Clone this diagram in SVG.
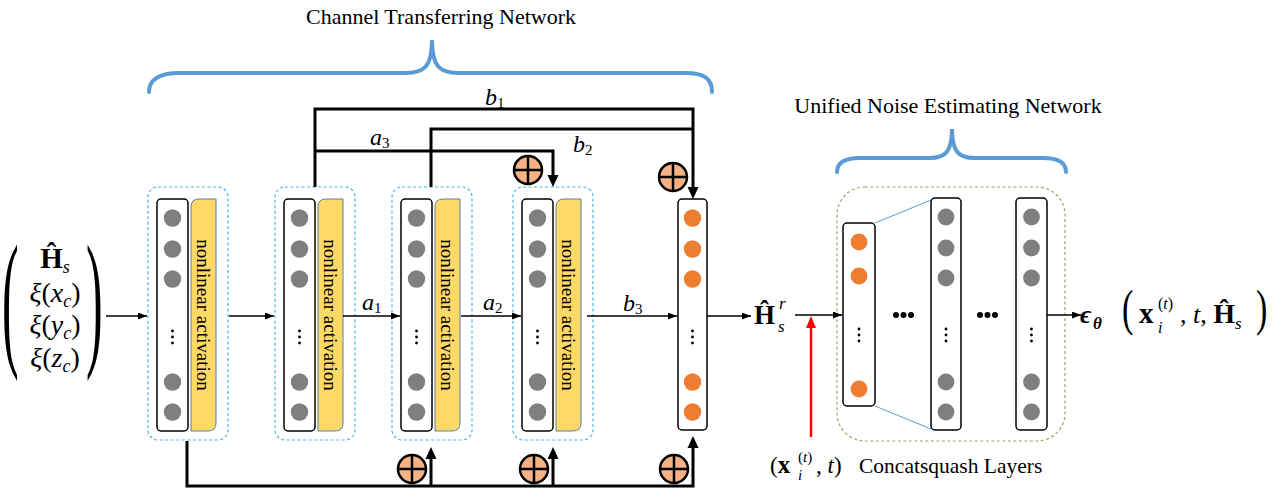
<svg xmlns="http://www.w3.org/2000/svg" width="1276" height="494" viewBox="0 0 1276 494">
<style>
.dash{fill:none;stroke:#45B5E8;stroke-width:1.2;stroke-dasharray:3 2.5}
.gdash{fill:none;stroke:#8DAE6A;stroke-width:1.2;stroke-dasharray:3 2.5}
.col{fill:#fff;stroke:#000;stroke-width:1.5}
.yel{fill:#FFD966;stroke:#5A7EA8;stroke-width:1}
.g{fill:#7F7F7F}
.o{fill:#ED7D31}
.d{fill:#000}
.thin{stroke:#000;stroke-width:1.5;fill:none}
.thick{stroke:#000;stroke-width:3;fill:none}
.brace{fill:none;stroke:#5B9BD5;stroke-width:4;stroke-linecap:round}
.bl{stroke:#5B9BD5;stroke-width:1;fill:none}
.pc{fill:#F4B183;stroke:#000;stroke-width:2.5}
.px{stroke:#000;stroke-width:2.5}
text{font-family:"Liberation Serif","DejaVu Serif",serif;fill:#000}
.na{font-size:19px}
.lab{font-size:24px;font-style:italic}
.sub{font-size:15px;font-style:normal}
.ttl{font-size:22px}
</style>
<defs>
<marker id="ah" markerUnits="userSpaceOnUse" markerWidth="10" markerHeight="8" refX="9" refY="3.5" orient="auto"><path d="M0,0 L9,3.5 L0,7 Z" fill="#000"/></marker>
<g id="pl"><circle class="pc" r="14"/><line class="px" x1="-14" y1="0" x2="14" y2="0"/><line class="px" x1="0" y1="-14" x2="0" y2="14"/></g>
</defs>

<!-- titles and braces -->
<g id="title-ctn">
<text class="ttl" x="441" y="24" text-anchor="middle">Channel Transferring Network</text>
<path class="brace" d="M149,92 C149,79 160,73 180,73 L405,73 C425,73 432,66 432,40 C432,66 439,73 459,73 L685,73 C705,73 712,79 712,92"/>
</g>
<g id="title-une">
<text class="ttl" x="948" y="113" text-anchor="middle">Unified Noise Estimating Network</text>
<path class="brace" d="M837,172 C837,163 845,158 860,158 L930,158 C945,158 952,152 952,129 C952,152 959,158 974,158 L1043,158 C1058,158 1066,163 1066,172"/>
</g>

<!-- input vector -->
<g id="input">
<text transform="translate(2,349) scale(1,3.0)" font-size="50">(</text>
<text transform="translate(86,349) scale(1,3.0)" font-size="50">)</text>
<text x="55" y="268" text-anchor="middle" font-size="29"><tspan font-weight="bold">Ĥ</tspan><tspan font-style="italic" font-size="18" dy="5">s</tspan></text>
<text x="55" y="302" text-anchor="middle" font-size="28"><tspan font-style="italic">ξ</tspan>(<tspan font-style="italic">x</tspan><tspan font-style="italic" font-size="18" dy="5">c</tspan><tspan dy="-5">)</tspan></text>
<text x="55" y="334" text-anchor="middle" font-size="28"><tspan font-style="italic">ξ</tspan>(<tspan font-style="italic">y</tspan><tspan font-style="italic" font-size="18" dy="5">c</tspan><tspan dy="-5">)</tspan></text>
<text x="55" y="367" text-anchor="middle" font-size="28"><tspan font-style="italic">ξ</tspan>(<tspan font-style="italic">z</tspan><tspan font-style="italic" font-size="18" dy="5">c</tspan><tspan dy="-5">)</tspan></text>
</g>

<!-- blocks -->
<g id="block1">
<rect class="dash" x="148" y="187" width="80" height="253" rx="10"/>
<rect class="col" x="157" y="199" width="31" height="232" rx="4"/>
<path class="yel" d="M199,199 H216 V423 Q216,431 208,431 H191 V207 Q191,199 199,199 Z"/>
<circle class="g" cx="172.5" cy="218" r="8.7"/><circle class="g" cx="172.5" cy="249" r="8.7"/><circle class="g" cx="172.5" cy="279" r="8.7"/><circle class="g" cx="172.5" cy="382" r="8.7"/><circle class="g" cx="172.5" cy="412" r="8.7"/>
<circle class="d" cx="172.5" cy="331" r="1.4"/><circle class="d" cx="172.5" cy="337" r="1.4"/><circle class="d" cx="172.5" cy="343" r="1.4"/>
<text class="na" transform="translate(203.5,315) rotate(90)" text-anchor="middle" dominant-baseline="central">nonlinear activation</text>
</g>
<g id="block2">
<rect class="dash" x="275" y="187" width="80" height="253" rx="10"/>
<rect class="col" x="284" y="199" width="31" height="232" rx="4"/>
<path class="yel" d="M326,199 H343 V423 Q343,431 335,431 H318 V207 Q318,199 326,199 Z"/>
<circle class="g" cx="299.5" cy="218" r="8.7"/><circle class="g" cx="299.5" cy="249" r="8.7"/><circle class="g" cx="299.5" cy="279" r="8.7"/><circle class="g" cx="299.5" cy="382" r="8.7"/><circle class="g" cx="299.5" cy="412" r="8.7"/>
<circle class="d" cx="299.5" cy="331" r="1.4"/><circle class="d" cx="299.5" cy="337" r="1.4"/><circle class="d" cx="299.5" cy="343" r="1.4"/>
<text class="na" transform="translate(330.5,315) rotate(90)" text-anchor="middle" dominant-baseline="central">nonlinear activation</text>
</g>
<g id="block3">
<rect class="dash" x="392" y="187" width="80" height="253" rx="10"/>
<rect class="col" x="401" y="199" width="31" height="232" rx="4"/>
<path class="yel" d="M443,199 H460 V423 Q460,431 452,431 H435 V207 Q435,199 443,199 Z"/>
<circle class="g" cx="416.5" cy="218" r="8.7"/><circle class="g" cx="416.5" cy="249" r="8.7"/><circle class="g" cx="416.5" cy="279" r="8.7"/><circle class="g" cx="416.5" cy="382" r="8.7"/><circle class="g" cx="416.5" cy="412" r="8.7"/>
<circle class="d" cx="416.5" cy="331" r="1.4"/><circle class="d" cx="416.5" cy="337" r="1.4"/><circle class="d" cx="416.5" cy="343" r="1.4"/>
<text class="na" transform="translate(447.5,315) rotate(90)" text-anchor="middle" dominant-baseline="central">nonlinear activation</text>
</g>
<g id="block4">
<rect class="dash" x="513" y="187" width="80" height="253" rx="10"/>
<rect class="col" x="522" y="199" width="31" height="232" rx="4"/>
<path class="yel" d="M564,199 H581 V423 Q581,431 573,431 H556 V207 Q556,199 564,199 Z"/>
<circle class="g" cx="537.5" cy="218" r="8.7"/><circle class="g" cx="537.5" cy="249" r="8.7"/><circle class="g" cx="537.5" cy="279" r="8.7"/><circle class="g" cx="537.5" cy="382" r="8.7"/><circle class="g" cx="537.5" cy="412" r="8.7"/>
<circle class="d" cx="537.5" cy="331" r="1.4"/><circle class="d" cx="537.5" cy="337" r="1.4"/><circle class="d" cx="537.5" cy="343" r="1.4"/>
<text class="na" transform="translate(568.5,315) rotate(90)" text-anchor="middle" dominant-baseline="central">nonlinear activation</text>
</g>
<g id="outcol">
<rect class="col" x="678" y="199" width="29" height="231" rx="4"/>
<circle class="o" cx="692.5" cy="218" r="8.7"/><circle class="o" cx="692.5" cy="249" r="8.7"/><circle class="o" cx="692.5" cy="279" r="8.7"/><circle class="o" cx="692.5" cy="382" r="8.7"/><circle class="o" cx="692.5" cy="412" r="8.7"/>
<circle class="d" cx="692.5" cy="331" r="1.4"/><circle class="d" cx="692.5" cy="337" r="1.4"/><circle class="d" cx="692.5" cy="343" r="1.4"/>
</g>
<g id="hsr">
<text x="754" y="324" font-size="27"><tspan font-weight="bold">Ĥ</tspan><tspan font-style="italic" font-size="17" x="779" y="309">r</tspan><tspan font-style="italic" font-size="17" x="778" y="332">s</tspan></text>
</g>

<!-- noise network -->
<g id="noise-net">
<rect class="gdash" x="837" y="187" width="228" height="254" rx="28"/>
<line class="bl" x1="875" y1="223" x2="931" y2="200"/>
<line class="bl" x1="875" y1="406" x2="931" y2="429"/>
<rect class="col" x="843" y="223" width="32" height="183" rx="4"/>
<circle class="o" cx="859" cy="242" r="8.4"/><circle class="o" cx="859" cy="276" r="8.4"/><circle class="o" cx="859" cy="389" r="8.4"/>
<circle class="d" cx="859" cy="329" r="1.4"/><circle class="d" cx="859" cy="335" r="1.4"/><circle class="d" cx="859" cy="341" r="1.4"/>
<rect class="col" x="931" y="198" width="30" height="232" rx="4"/>
<circle class="g" cx="946" cy="217" r="8.4"/><circle class="g" cx="946" cy="248" r="8.4"/><circle class="g" cx="946" cy="278" r="8.4"/><circle class="g" cx="946" cy="382" r="8.4"/><circle class="g" cx="946" cy="412" r="8.4"/>
<circle class="d" cx="946" cy="329" r="1.4"/><circle class="d" cx="946" cy="335" r="1.4"/><circle class="d" cx="946" cy="341" r="1.4"/>
<rect class="col" x="1016" y="198" width="31" height="232" rx="4"/>
<circle class="g" cx="1031.5" cy="217" r="8.4"/><circle class="g" cx="1031.5" cy="248" r="8.4"/><circle class="g" cx="1031.5" cy="278" r="8.4"/><circle class="g" cx="1031.5" cy="382" r="8.4"/><circle class="g" cx="1031.5" cy="412" r="8.4"/>
<circle class="d" cx="1031.5" cy="329" r="1.4"/><circle class="d" cx="1031.5" cy="335" r="1.4"/><circle class="d" cx="1031.5" cy="341" r="1.4"/>
<circle class="d" cx="896" cy="315" r="3"/><circle class="d" cx="903.5" cy="315" r="3"/><circle class="d" cx="911" cy="315" r="3"/>
<circle class="d" cx="980" cy="315" r="3"/><circle class="d" cx="987.5" cy="315" r="3"/><circle class="d" cx="995" cy="315" r="3"/>
</g>

<g id="output">
<text x="1080" y="323" font-size="26"><tspan font-weight="bold" font-style="italic">ϵ</tspan><tspan font-weight="bold" font-style="italic" font-size="17" x="1093" y="329">θ</tspan></text>
<text transform="translate(1122,325) scale(1,1.5)" font-size="34">(</text>
<text x="1139" y="323" font-size="26"><tspan font-weight="bold" font-size="29">x</tspan><tspan font-size="16" x="1158" y="309">(</tspan><tspan font-size="16" font-style="italic">t</tspan><tspan font-size="16">)</tspan><tspan font-size="16" font-style="italic" x="1158" y="333">i</tspan><tspan x="1180" y="323">, </tspan><tspan font-style="italic">t</tspan><tspan>, </tspan><tspan font-weight="bold" font-size="28">Ĥ</tspan><tspan font-style="italic" font-size="17" dy="6">s</tspan></text>
<text transform="translate(1256,325) scale(1,1.5)" font-size="34">)</text>
</g>

<g id="concat-label">
<text x="770" y="473" font-size="23">(<tspan font-weight="bold" font-size="25">x</tspan><tspan font-size="15" x="798" y="462">(</tspan><tspan font-size="15" font-style="italic">t</tspan><tspan font-size="15">)</tspan><tspan font-size="15" font-style="italic" x="798" y="480">i</tspan><tspan x="816" y="473">, </tspan><tspan font-style="italic">t</tspan>)</text>
<text x="859" y="473" font-size="21.5">Concatsquash Layers</text>
</g>

<!-- plus nodes -->
<g id="plus-a3"><use href="#pl" x="528" y="170"/></g>
<g id="plus-b"><use href="#pl" x="673" y="177"/></g>
<g id="plus-bot1"><use href="#pl" x="412" y="469"/></g>
<g id="plus-bot2"><use href="#pl" x="534" y="469"/></g>
<g id="plus-bot3"><use href="#pl" x="674" y="469"/></g>

<!-- connectors -->
<g id="connectors">
<line class="thin" x1="106" y1="316" x2="147" y2="316" marker-end="url(#ah)"/>
<line class="thin" x1="229" y1="316" x2="274" y2="316" marker-end="url(#ah)"/>
<line class="thin" x1="343" y1="316" x2="400" y2="316" marker-end="url(#ah)"/>
<line class="thin" x1="461" y1="316" x2="521" y2="316" marker-end="url(#ah)"/>
<line class="thin" x1="587" y1="316" x2="677" y2="316" marker-end="url(#ah)"/>
<line class="thin" x1="707" y1="316" x2="751" y2="316" marker-end="url(#ah)"/>
<line class="thin" x1="795" y1="315" x2="842" y2="315" marker-end="url(#ah)"/>
<line class="thin" x1="1047" y1="315" x2="1081" y2="315" marker-end="url(#ah)"/>
<line x1="811" y1="437" x2="811" y2="327" stroke="#FF0000" stroke-width="2.5"/>
<polygon points="806,328 816,328 811,316" fill="#FF0000"/>
<path class="thick" d="M315,187 V109 H693 V188"/>
<polygon points="687.5,187 698.5,187 693,199"/>
<path class="thick" d="M431,187 V129 H693"/>
<path class="thick" d="M315,151 H553 V176"/>
<polygon points="547.5,175 558.5,175 553,187"/>
<path class="thick" d="M187,441 V486 H693 V447"/>
<polygon points="687.5,448 698.5,448 693,436"/>
<path class="thick" d="M431,486 V458"/>
<polygon points="425.5,459 436.5,459 431,447"/>
<path class="thick" d="M553,486 V458"/>
<polygon points="547.5,459 558.5,459 553,447"/>
<text class="lab" x="485" y="105">b<tspan class="sub" dy="3">1</tspan></text>
<text class="lab" x="370" y="145">a<tspan class="sub" dy="3">3</tspan></text>
<text class="lab" x="573" y="152">b<tspan class="sub" dy="3">2</tspan></text>
<text class="lab" x="362" y="310">a<tspan class="sub" dy="3">1</tspan></text>
<text class="lab" x="483" y="310">a<tspan class="sub" dy="3">2</tspan></text>
<text class="lab" x="623" y="311">b<tspan class="sub" dy="3">3</tspan></text>
</g>
</svg>
